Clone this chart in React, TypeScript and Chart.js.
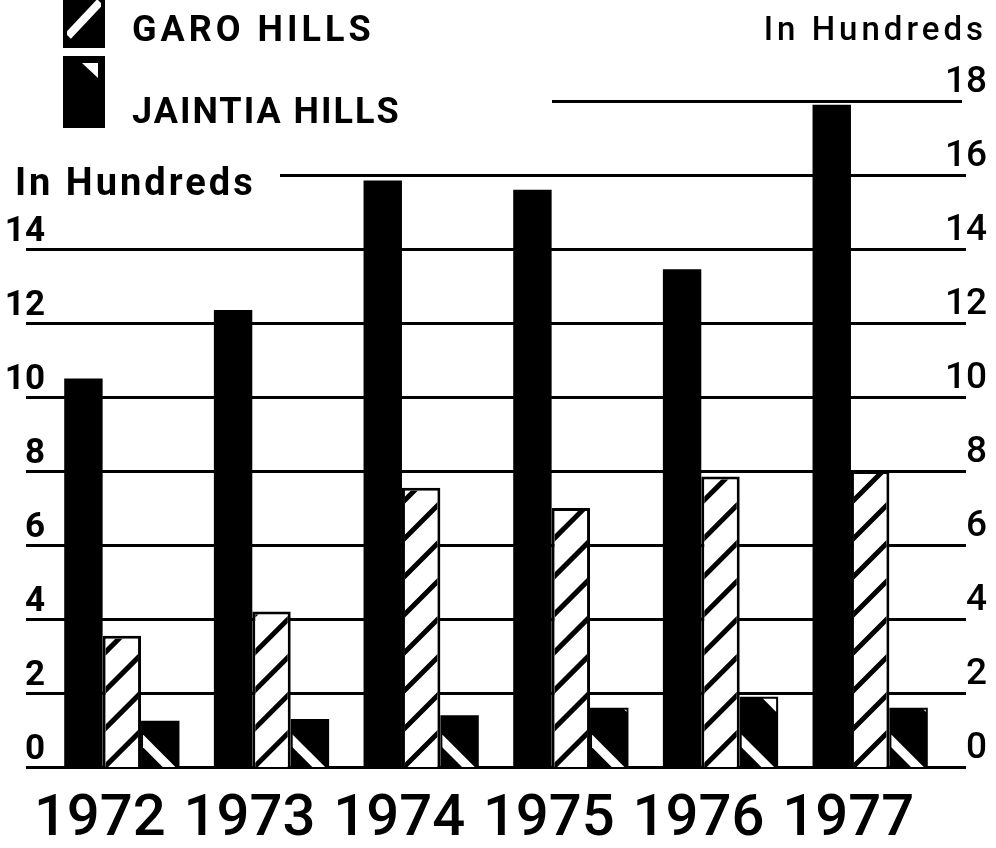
import React, { useEffect, useRef } from 'react';
import { Chart, registerables } from 'chart.js';

Chart.register(...registerables);

// ---- data ----
const years = ['1972', '1973', '1974', '1975', '1976', '1977'];
const khasiHills = [10.5, 12.35, 15.85, 15.6, 13.45, 17.9];
const garoHills = [3.55, 4.2, 7.55, 7.0, 7.85, 8.0];
const jaintiaHills = [1.25, 1.3, 1.4, 1.6, 1.9, 1.6];
const seriesLabels = ['KHASI HILLS', 'GARO HILLS', 'JAINTIA HILLS'];
const yTickValues = [0, 2, 4, 6, 8, 10, 12, 14, 16, 18];
const leftTickMax = 14;
const unitLabel = 'In Hundreds';

// ---- layout / style constants ----
const FONT = 'Roboto, "DejaVu Sans", sans-serif';
const GRID_EXTENT: Record<string, [number, number]> = {
  default: [26, 966],
  '16': [280, 966],
  '18': [552, 962],
};

const gridPlugin = {
  id: 'customGrid',
  beforeDatasetsDraw(chart: any) {
    const ctx = chart.ctx;
    const ys = chart.scales.y;
    ctx.save();
    ctx.strokeStyle = '#000';
    ctx.lineWidth = 3;
    yTickValues.forEach((v) => {
      const py = Math.round(ys.getPixelForValue(v)) + 0.5;
      const [x0, x1] = GRID_EXTENT[String(v)] || GRID_EXTENT.default;
      ctx.beginPath();
      ctx.moveTo(x0, py);
      ctx.lineTo(x1, py);
      ctx.stroke();
    });
    ctx.restore();
  },
};

const patternPlugin = {
  id: 'barPatterns',
  afterDatasetsDraw(chart: any) {
    const ctx = chart.ctx;
    // Garo Hills: white with black "/" hatching
    chart.getDatasetMeta(1).data.forEach((el: any) => {
      const { x, y, base, width } = el.getProps(['x', 'y', 'base', 'width'], true);
      const l = x - width / 2;
      const r = x + width / 2;
      const bw = 3;
      const w = r - l;
      ctx.save();
      ctx.beginPath();
      ctx.rect(l + bw, y + bw, w - 2 * bw, base - y - bw);
      ctx.clip();
      ctx.strokeStyle = '#000';
      ctx.lineWidth = 5;
      const step = 38;
      for (let k = 0; k * step < base - y + w + step; k++) {
        const y0 = base - k * step + 2;
        ctx.beginPath();
        ctx.moveTo(l - 10, y0 + 10);
        ctx.lineTo(r + 10, y0 - w - 10);
        ctx.stroke();
      }
      ctx.restore();
    });
    // Jaintia Hills: black with white "\" bands
    chart.getDatasetMeta(2).data.forEach((el: any) => {
      const { x, y, base, width } = el.getProps(['x', 'y', 'base', 'width'], true);
      const l = x - width / 2;
      const r = x + width / 2;
      ctx.save();
      ctx.beginPath();
      ctx.rect(l + 2, y + 2, r - l - 4, base - y - 2);
      ctx.clip();
      ctx.strokeStyle = '#fff';
      ctx.lineWidth = 9;
      for (let k = 0; k < 4; k++) {
        const c = 28 + k * 70;
        ctx.beginPath();
        ctx.moveTo(l - 60, base - c - 60);
        ctx.lineTo(r + 60, base - c + (r - l) + 60);
        ctx.stroke();
      }
      ctx.restore();
    });
  },
};

const annotationPlugin = {
  id: 'annotations',
  afterDraw(chart: any) {
    const ctx = chart.ctx;
    ctx.save();
    ctx.textBaseline = 'alphabetic';

    // legend box: Garo Hills
    ctx.fillStyle = '#000';
    ctx.fillRect(63, -6, 42, 54);
    ctx.save();
    ctx.beginPath();
    ctx.rect(67, -6, 34, 50);
    ctx.clip();
    ctx.strokeStyle = '#fff';
    ctx.lineWidth = 8;
    ctx.beginPath();
    ctx.moveTo(68, 36);
    ctx.lineTo(100, 2);
    ctx.stroke();
    ctx.restore();

    // legend box: Jaintia Hills
    ctx.fillStyle = '#000';
    ctx.fillRect(63, 56, 42, 72);
    ctx.fillStyle = '#fff';
    ctx.beginPath();
    ctx.moveTo(82, 63);
    ctx.lineTo(98, 63);
    ctx.lineTo(98, 78);
    ctx.closePath();
    ctx.fill();

    // legend texts
    ctx.fillStyle = '#000';
    ctx.font = `bold 36px ${FONT}`;
    ctx.textAlign = 'left';
    (ctx as any).letterSpacing = '4px';
    ctx.fillText(chart.data.datasets[1].label, 132, 41);
    (ctx as any).letterSpacing = '2px';
    ctx.fillText(chart.data.datasets[2].label, 132, 123);

    // unit labels
    ctx.font = `bold 38px ${FONT}`;
    (ctx as any).letterSpacing = '3px';
    ctx.fillText(unitLabel, 15, 195);

    ctx.font = `500 33px ${FONT}`;
    (ctx as any).letterSpacing = '4px';
    ctx.textAlign = 'right';
    ctx.fillText(unitLabel, 987, 40);
    (ctx as any).letterSpacing = '0px';
    ctx.restore();
  },
};

export default function App() {
  const canvasRef = useRef<HTMLCanvasElement | null>(null);

  useEffect(() => {
    if (!canvasRef.current) return;
    const chart = new Chart(canvasRef.current, {
      type: 'bar',
      data: {
        labels: years,
        datasets: [
          {
            label: seriesLabels[0],
            data: khasiHills,
            backgroundColor: '#000',
            borderWidth: 0,
          },
          {
            label: seriesLabels[1],
            data: garoHills,
            backgroundColor: '#fff',
            borderColor: '#000',
            borderWidth: 3,
          },
          {
            label: seriesLabels[2],
            data: jaintiaHills,
            backgroundColor: '#000',
            borderWidth: 0,
          },
        ],
      },
      options: {
        responsive: false,
        animation: false,
        events: [],
        layout: { padding: { top: 101, right: 9, bottom: 0, left: 0 } },
        datasets: { bar: { barPercentage: 1, categoryPercentage: 0.77 } },
        plugins: {
          legend: { display: false },
          tooltip: { enabled: false },
          title: { display: false },
        },
        scales: {
          x: {
            type: 'category',
            offset: true,
            grid: { display: false, drawTicks: false },
            border: { display: false },
            ticks: {
              color: '#000',
              font: { family: FONT, size: 58, weight: '500' },
              padding: 19,
              labelOffset: -22,
              maxRotation: 0,
              autoSkip: false,
            },
            afterFit: (s: any) => {
              s.height = 81;
            },
          },
          y: {
            position: 'left',
            min: 0,
            max: 18,
            grid: { display: false, drawTicks: false },
            border: { display: false },
            ticks: {
              stepSize: 2,
              color: '#000',
              font: { family: FONT, size: 35, weight: 'bold' },
              padding: 2,
              labelOffset: -17,
              callback: (v: any) => (Number(v) <= leftTickMax ? String(v) : null),
            },
            afterFit: (s: any) => {
              s.width = 47;
            },
          },
          y2: {
            position: 'right',
            min: 0,
            max: 18,
            grid: { display: false, drawTicks: false },
            border: { display: false },
            ticks: {
              stepSize: 2,
              color: '#000',
              font: { family: FONT, size: 37, weight: '500' },
              padding: 0,
              crossAlign: 'far',
              labelOffset: -18,
            },
            afterFit: (s: any) => {
              s.width = 42;
            },
          },
        },
      },
      plugins: [gridPlugin, patternPlugin, annotationPlugin],
    } as any);
    return () => chart.destroy();
  }, []);

  return (
    <div style={{ position: 'absolute', left: 0, top: 0, width: 996, height: 848, background: '#fff' }}>
      <canvas ref={canvasRef} width={996} height={848} style={{ display: 'block' }} />
    </div>
  );
}
